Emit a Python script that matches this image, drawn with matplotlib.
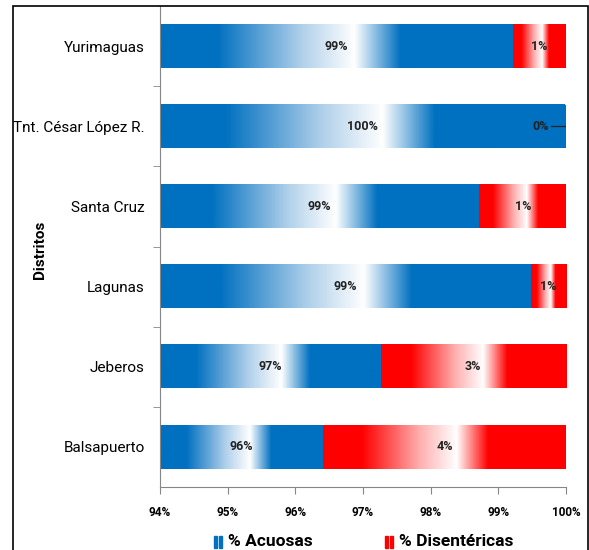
import matplotlib
matplotlib.use("Agg")
import matplotlib.pyplot as plt
import matplotlib.patches as patches
import numpy as np
from matplotlib.colors import LinearSegmentedColormap

plt.rcParams['font.family'] = ['Roboto', 'DejaVu Sans']

distritos = ['Yurimaguas', 'Tnt. César López R.', 'Santa Cruz',
             'Lagunas', 'Jeberos', 'Balsapuerto']
acuosas = [99.22, 99.98, 98.72, 99.48, 97.26, 96.41]
disentericas = [0.78, 0.02, 1.28, 0.52, 2.74, 3.59]
xticks = [94, 95, 96, 97, 98, 99, 100]
series_names = ['% Acuosas', '% Disentéricas']

blue = '#0070C0'
red = '#FF0000'
axis_col = '#868686'


def grad_cmap(c, pale):
    return LinearSegmentedColormap.from_list(
        'g', [(0, c), (0.16, c), (0.40, pale),
              (0.55, 'white'), (0.68, c), (1, c)])


cm_blue = grad_cmap(blue, '#b0d0ea')
cm_red = grad_cmap(red, '#ffb0b0')

fig = plt.figure(figsize=(5.89, 5.5), dpi=100)
ax = fig.add_axes([160 / 589, 1 - 487 / 550, 406 / 589, 481 / 550])

xmin, xmax = 94, 100
h = 0.54
grad = np.linspace(0, 1, 256).reshape(1, -1)
ypos = np.arange(len(distritos))[::-1]


def grad_bar(x0, x1, y, cmap):
    ax.imshow(grad, cmap=cmap, aspect='auto', interpolation='bilinear',
              extent=[x0, x1, y - h / 2, y + h / 2], zorder=2)


for y, a, d in zip(ypos, acuosas, disentericas):
    grad_bar(xmin, a, y, cm_blue)
    if d >= 0.1:
        grad_bar(a, a + d, y, cm_red)
    else:
        ax.barh(y, d, left=a, height=h, color=blue, lw=0, zorder=2)
    ax.text((xmin + a) / 2, y, f'{a:.0f}%', ha='center', va='center',
            fontsize=9, fontweight='bold', color='#222222', zorder=3)
    if d < 0.1:
        # tiny segment: label pulled left with a leader line
        ax.text(a - 0.36, y, f'{d:.0f}%', ha='center', va='center',
                fontsize=9, fontweight='bold', color='#222222', zorder=3)
        ax.plot([a - 0.2, a + d], [y, y], color='#222222', lw=0.9, zorder=3)
    else:
        ax.text(a + d / 2, y, f'{d:.0f}%', ha='center', va='center',
                fontsize=9, fontweight='bold', color='#222222', zorder=3)

ax.set_xlim(xmin, xmax)
ax.set_ylim(-0.5, len(distritos) - 0.5)
ax.set_xticks(xticks)
ax.set_xticklabels([f'{t}%' for t in xticks], fontsize=8.5, fontweight='bold')
ax.set_yticks(ypos)
ax.set_yticklabels(distritos, fontsize=11)
ax.set_yticks(np.arange(len(distritos) - 1) + 0.5, minor=True)
ax.tick_params(axis='y', which='major', length=0, pad=11)
ax.tick_params(axis='y', which='minor', length=5, color=axis_col)
ax.tick_params(axis='x', length=5, color=axis_col, pad=9)
for s in ['top', 'right']:
    ax.spines[s].set_visible(False)
for s in ['left', 'bottom']:
    ax.spines[s].set_color(axis_col)

fig.text(40 / 589, 1 - 250 / 550, 'Distritos', rotation=90, ha='center',
         va='center', fontsize=11, fontweight='bold')

# legend
leg_y = 1 - 542 / 550
for x0, c, label in [(214, blue, series_names[0]), (385, red, series_names[1])]:
    for dx in (0, 4.5):
        fig.patches.append(patches.Rectangle(
            ((x0 + dx) / 589, leg_y - 6 / 550), 3 / 589, 12 / 550,
            transform=fig.transFigure, color=c, figure=fig))
    fig.text((x0 + 14) / 589, leg_y, label, ha='left', va='center',
             fontsize=12.5, fontweight='bold')

# outer frame
fig.patches.append(patches.Rectangle(
    (13 / 589, -0.02), 575 / 589, 1.02 - 6 / 550, transform=fig.transFigure,
    fill=False, edgecolor='black', lw=1.2, figure=fig))

fig.savefig('out.png', dpi=100)
